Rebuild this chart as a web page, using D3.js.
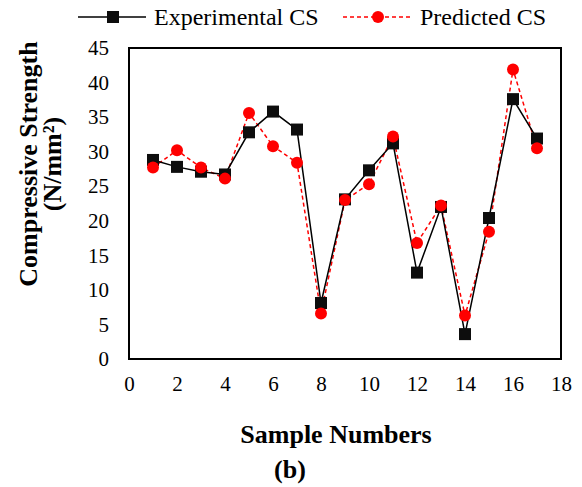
<!DOCTYPE html>
<html>
<head>
<meta charset="utf-8">
<script src="https://cdn.jsdelivr.net/npm/d3@7"></script>
<style>
  body { margin: 0; background: #fff; }
  svg { display: block; font-family: "Liberation Serif", "Times New Roman", serif; }
</style>
</head>
<body>
<svg id="chart" width="582" height="487"></svg>
<script>
// sample numbers and compressive strengths
const samples = [1, 2, 3, 4, 5, 6, 7, 8, 9, 10, 11, 12, 13, 14, 15, 16, 17];
const experimental = [28.8, 27.8, 27.1, 26.7, 32.8, 35.8, 33.2, 8.1, 23.1, 27.3, 31.2, 12.5, 22.0, 3.6, 20.4, 37.6, 31.9];
const predicted = [27.7, 30.2, 27.7, 26.1, 35.6, 30.8, 28.4, 6.6, 23.0, 25.3, 32.2, 16.8, 22.2, 6.3, 18.4, 41.9, 30.5];
const xTicks = [0, 2, 4, 6, 8, 10, 12, 14, 16, 18];
const yTicks = [0, 5, 10, 15, 20, 25, 30, 35, 40, 45];

const serif = "Liberation Serif";

function render_chart()
{
    let svg = d3.select("#chart");
    let left = 129, right = 561, top = 48, bottom = 359;

    let x = d3.scaleLinear().domain([0, 18]).range([left, right]);
    let y = d3.scaleLinear().domain([0, 45]).range([bottom, top]);

    // axes: labels only, no tick marks
    let xAxis = svg.append("g")
        .attr("transform", `translate(0,${bottom})`)
        .call(d3.axisBottom(x).tickValues(xTicks).tickSize(0).tickPadding(17));
    xAxis.select(".domain").remove();
    xAxis.selectAll("text")
        .attr("font-family", serif)
        .attr("font-size", 21)
        .attr("fill", "#000");

    let yAxis = svg.append("g")
        .attr("transform", `translate(${left},0)`)
        .call(d3.axisLeft(y).tickValues(yTicks).tickSize(0).tickPadding(20));
    yAxis.select(".domain").remove();
    yAxis.selectAll("text")
        .attr("font-family", serif)
        .attr("font-size", 21)
        .attr("fill", "#000");

    // plot frame
    svg.append("rect")
        .attr("x", left).attr("y", top)
        .attr("width", right - left).attr("height", bottom - top)
        .attr("fill", "none").attr("stroke", "#000").attr("stroke-width", 2);

    let line = d3.line()
        .x((d, i) => x(samples[i]))
        .y(d => y(d));

    // predicted series (red dashed, circles)
    svg.append("path")
        .datum(predicted)
        .attr("d", line)
        .attr("fill", "none")
        .attr("stroke", "#ff0000")
        .attr("stroke-width", 1.5)
        .attr("stroke-dasharray", "4,3");

    // experimental series (black, squares)
    svg.append("path")
        .datum(experimental)
        .attr("d", line)
        .attr("fill", "none")
        .attr("stroke", "#000")
        .attr("stroke-width", 1.5);

    svg.append("g")
        .selectAll("rect")
        .data(experimental)
        .join("rect")
            .attr("x", (d, i) => x(samples[i]) - 6)
            .attr("y", d => y(d) - 6)
            .attr("width", 12)
            .attr("height", 12)
            .attr("fill", "#0d0d0d");

    svg.append("g")
        .selectAll("circle")
        .data(predicted)
        .join("circle")
            .attr("cx", (d, i) => x(samples[i]))
            .attr("cy", d => y(d))
            .attr("r", 6)
            .attr("fill", "#ff0000");

    // legend
    let legend = svg.append("g").attr("font-size", 24).attr("font-family", serif);
    legend.append("line")
        .attr("x1", 78).attr("x2", 146).attr("y1", 17).attr("y2", 17)
        .attr("stroke", "#000").attr("stroke-width", 1.5);
    legend.append("rect")
        .attr("x", 107).attr("y", 11).attr("width", 12).attr("height", 12)
        .attr("fill", "#0d0d0d");
    legend.append("text")
        .attr("x", 154).attr("y", 25).text("Experimental CS");

    legend.append("line")
        .attr("x1", 343).attr("x2", 411).attr("y1", 17).attr("y2", 17)
        .attr("stroke", "#ff0000").attr("stroke-width", 1.5)
        .attr("stroke-dasharray", "4,3");
    legend.append("circle")
        .attr("cx", 378).attr("cy", 17).attr("r", 6)
        .attr("fill", "#ff0000");
    legend.append("text")
        .attr("x", 420).attr("y", 25).text("Predicted CS");

    // axis titles
    let yTitle = svg.append("text")
        .attr("transform", "translate(37,164) rotate(-90)")
        .attr("text-anchor", "middle")
        .attr("font-family", serif)
        .attr("font-size", 26)
        .attr("font-weight", "bold");
    yTitle.append("tspan").attr("x", 0).attr("dy", 0).text("Compressive Strength");
    yTitle.append("tspan").attr("x", 0).attr("dy", 24).text("(N/mm²)");

    svg.append("text")
        .attr("x", 336).attr("y", 443)
        .attr("text-anchor", "middle")
        .attr("font-family", serif)
        .attr("font-size", 26)
        .attr("font-weight", "bold")
        .text("Sample Numbers");

    svg.append("text")
        .attr("x", 290).attr("y", 478)
        .attr("text-anchor", "middle")
        .attr("font-family", serif)
        .attr("font-size", 26)
        .attr("font-weight", "bold")
        .text("(b)");
}

render_chart();
</script>
</body>
</html>
